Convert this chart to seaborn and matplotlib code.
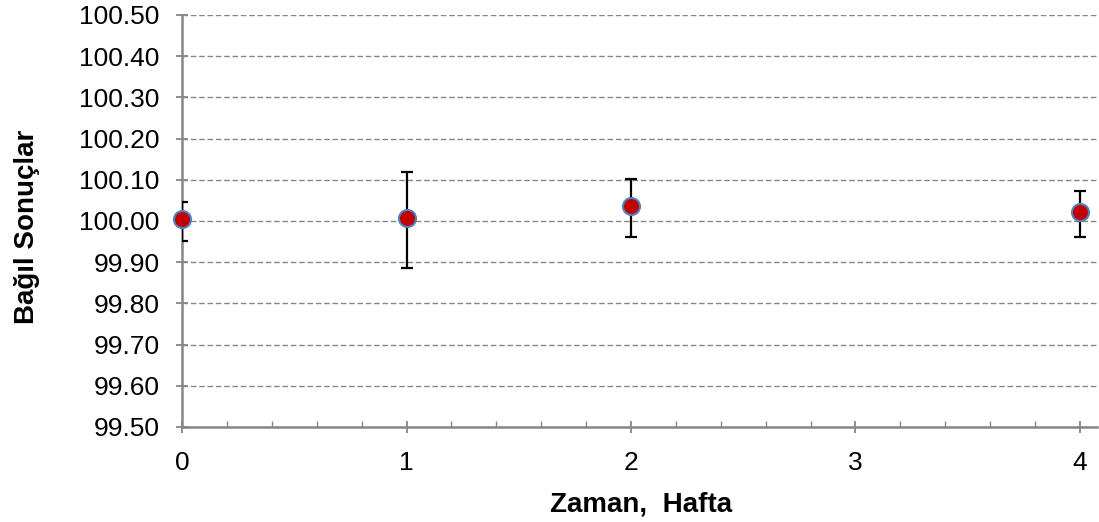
import numpy as np
import pandas as pd
import matplotlib
matplotlib.use('Agg')
import matplotlib.pyplot as plt
from matplotlib.ticker import MultipleLocator, FormatStrFormatter
import seaborn as sns

# --- Data ---
weeks = [0, 1, 2, 4]
results = [100.005, 100.007, 100.036, 100.022]
err_low = [0.054, 0.121, 0.075, 0.061]
err_high = [0.041, 0.112, 0.066, 0.051]

x_label = 'Zaman,  Hafta'
y_label = 'Bağıl Sonuçlar'

# --- Style ---
sns.set_theme(style="white")
plt.rcParams['font.family'] = ['Liberation Sans', 'DejaVu Sans']
plt.rcParams['text.color'] = 'black'
plt.rcParams['axes.labelcolor'] = 'black'

df = pd.DataFrame({'week': weeks, 'result': results})

fig = plt.figure(figsize=(10.99, 5.22), dpi=100)
ax = fig.add_axes([182 / 1099, 1 - 427 / 522, (1097 - 182) / 1099, (427 - 15) / 522])

grid_color = '#868686'

# error bars
ax.errorbar(df['week'], df['result'], yerr=[err_low, err_high], fmt='none',
            ecolor='black', elinewidth=1.6, capsize=4.3, capthick=1.6, zorder=3)

# markers
sns.scatterplot(data=df, x='week', y='result', ax=ax, s=150, color='#C00000',
                edgecolor='#4F81BD', linewidth=1.5, zorder=4, clip_on=False)

ax.set_xlim(0, (1097 - 182) / 224.5)
ax.set_ylim(99.5, 100.5)

ax.yaxis.set_major_locator(MultipleLocator(0.1))
ax.yaxis.set_major_formatter(FormatStrFormatter('%.2f'))
ax.xaxis.set_major_locator(MultipleLocator(1))
ax.xaxis.set_minor_locator(MultipleLocator(0.2))

ax.grid(axis='y', which='major', color=grid_color, linestyle=(0, (4, 2)), linewidth=1.0)
ax.grid(axis='x', visible=False)
ax.set_axisbelow(True)

for side in ['top', 'right']:
    ax.spines[side].set_visible(False)
for side in ['left', 'bottom']:
    ax.spines[side].set_color(grid_color)
    ax.spines[side].set_linewidth(1.8)

ax.tick_params(axis='y', which='major', direction='inout', length=8, width=1.3,
               color=grid_color, labelsize=19, pad=12, labelcolor='black')
ax.tick_params(axis='x', which='major', direction='inout', length=9, width=1.3,
               color=grid_color, labelsize=19, pad=12.5, labelcolor='black')
ax.tick_params(axis='x', which='minor', direction='in', length=4.5, width=1.0,
               color=grid_color)
ax.tick_params(bottom=True, left=True, which='both')
ax.tick_params(axis='y', which='minor', left=False)

ax.set_xlabel(x_label, fontsize=20, fontweight='bold')
ax.set_ylabel(y_label, fontsize=20, fontweight='bold')
ax.xaxis.set_label_coords(0.502, -0.156)
ax.yaxis.set_label_coords(-0.155, 0.485)

fig.savefig('out.png', dpi=100)
